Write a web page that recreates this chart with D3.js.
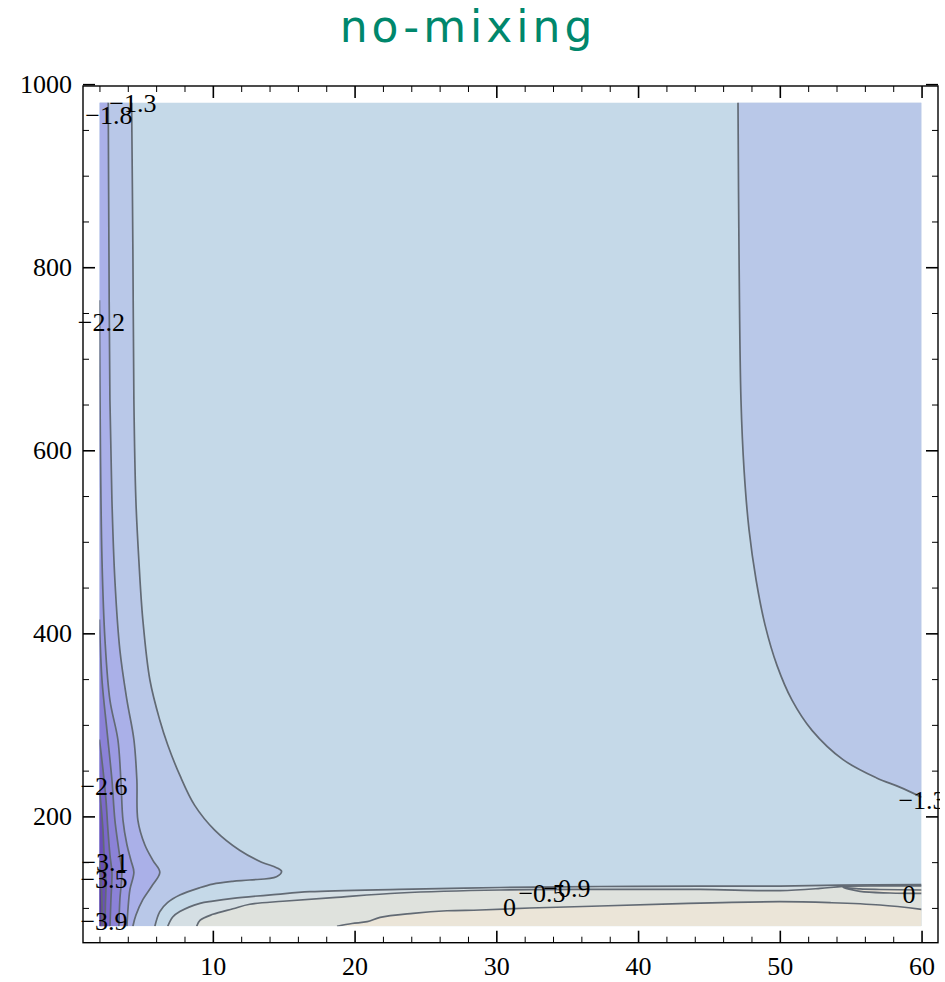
<!DOCTYPE html>
<html>
<head>
<meta charset="utf-8">
<script src="https://cdn.jsdelivr.net/npm/d3@7"></script>
<style>
  body { margin: 0; background: #fff; }
  svg { display: block; }
</style>
</head>
<body>
<div id="chart"></div>
<script>
// contour levels (low to high) and the shade of each band
var levels = [-3.93, -3.49, -3.06, -2.62, -2.18, -1.74, -1.31, -0.87, -0.44, 0];
var bandColors = ['#573898', '#6a4fb8', '#7b68ca', '#8b82d7', '#9b9ae2', '#aab0e8',
                  '#b9c8e8', '#c5d9e8', '#d5dfe4', '#dfe2dd', '#ebe5d8'];

// sampled region of the plot
var xRange = [2, 60];
var yRange = [80, 980];

// contour lines as [x, y]
var lineR13 = [[47.05,980],[47.12,819],[47.26,655],[47.48,578],[47.83,513],[48.33,458],[48.96,409],
               [49.80,365],[50.86,327],[52.27,294],[54.46,262],[56.83,242],[58.46,232],[60,221]];
var lineL13 = [[4.27,980],[4.36,819],[4.43,655],[4.57,546],[4.78,480],[5.06,415],[5.56,349],[6.26,305],
               [6.82,278],[7.67,245],[8.72,212],[10.13,185],[11.89,163],[13.44,150],[14.49,144],[14.85,140],
               [14.49,134],[12.59,130.5],[11.40,129],[9.99,126],[9.07,122],[7.67,114],[6.82,106],[6.26,96],[5.91,80]];
var lineL17 = [[2.62,980],[2.67,819],[2.74,655],[2.88,546],[3.09,458],[3.44,382],[3.94,327],[4.43,284],
               [4.64,240],[4.71,196],[5.20,169],[5.77,152],[6.26,139],[5.70,124],[5.06,109],[4.57,92],[4.36,80]];
var lineL22 = [[2.0,764],[2.07,600],[2.18,480],[2.39,393],[2.74,327],[3.30,284],[3.51,240],[3.66,196],
               [3.94,169],[4.22,152],[4.43,139],[4.15,120],[4.01,98],[3.94,80]];
var lineL26 = [[2.0,415],[2.18,349],[2.53,294],[2.88,240],[3.09,196],[3.37,163],[3.58,139],[3.44,109],[3.37,80]];
var lineL31 = [[2.0,284],[2.25,251],[2.46,218],[2.60,185],[2.74,158],[2.88,139],[2.81,109],[2.74,80]];
var lineL35 = [[2.0,229],[2.14,207],[2.25,185],[2.35,152],[2.46,131],[2.42,103],[2.39,80]];
var lineL39 = [[2.0,152],[2.11,131],[2.18,103],[2.18,80]];
var lineA09 = [[6.82,80],[7.17,90],[7.67,96],[9.09,105],[10.0,107.5],[11.42,110.5],[14.51,114.9],[16.84,117.7],
               [23.17,120.3],[30.26,122.3],[37.31,123.4],[44.37,123.9],[50.01,123.9],[54.24,125.0],[60,125.4]];
var lineB04 = [[8.86,80],[9.09,86.5],[10.0,93.0],[11.42,99.1],[12.61,104.0],[14.94,107.3],[18.47,111.2],
               [23.17,116.3],[30.26,119.6],[37.31,120.2],[44.37,120.2],[50.01,118.9],[52.84,121.3],[54.46,123.5],
               [57.07,124.0],[60,124.0]];
var lineC00 = [[18.76,80],[19.82,83],[20.89,85],[21.80,89.7],[24.12,94.1],[26.52,96.9],[28.85,97.7],[32.37,99.9],
               [37.31,102.1],[42.96,104.8],[50.01,106.8],[53.54,105.7],[57.07,103.2],[60,98.5]];
var lineD00 = [[60,119.6],[57.07,120.1],[55.66,120.7],[54.46,122.3],[55.66,118.0],[57.77,116.3],[60,115.8]];

// contour labels
var labelText = ['\u22121.3', '\u22121.8', '\u22122.2', '\u22122.6', '\u22123.1', '\u22123.5', '\u22123.9',
                 '\u22120.5', '\u22120.9', '0', '0', '\u22121.3'];
var labelX = [4.36, 2.67, 2.14, 2.32, 2.39, 2.32, 2.32, 33.22, 34.98, 30.93, 59.11, 60.03];
var labelY = [979, 966, 740, 233, 150, 131.6, 85.7, 116.3, 121.8, 101.5, 115.8, 218];

// tick values
var xMajor = [10, 20, 30, 40, 50, 60];
var xMinor = d3.range(2, 61, 2).filter(function(d) { return d % 10 !== 0; });
var yMajor = [200, 400, 600, 800, 1000];
var yMinor = d3.range(100, 1000, 50).filter(function(d) { return d % 200 !== 0; });

// which side of each line gets painted, and the band it takes
var contours = [
    {pts: lineR13, side: 'topright', band: 6},
    {pts: lineA09, side: 'bottom', band: 8},
    {pts: lineB04, side: 'bottom', band: 9},
    {pts: lineC00, side: 'bottom', band: 10},
    {pts: lineD00, side: 'closed', band: 10},
    {pts: lineL13, side: 'left', band: 6},
    {pts: lineL17, side: 'left', band: 5},
    {pts: lineL22, side: 'left', band: 4},
    {pts: lineL26, side: 'left', band: 3},
    {pts: lineL31, side: 'left', band: 2},
    {pts: lineL35, side: 'left', band: 1},
    {pts: lineL39, side: 'left', band: 0}
];

var width = 945,
    height = 982,
    frameL = 83, frameR = 938, frameT = 86, frameB = 942.7;

var x = d3.scaleLinear().domain([0.84, 61.16]).range([frameL, frameR]);
var y = d3.scaleLinear().domain([62, 998]).range([frameB, frameT]);

var svg = d3.select('#chart')
    .append('svg')
    .attr('width', width)
    .attr('height', height);

var defs = svg.append('defs');
defs.append('clipPath').attr('id', 'dataClip')
    .append('rect')
    .attr('x', x(xRange[0])).attr('y', y(yRange[1]))
    .attr('width', x(xRange[1]) - x(xRange[0]))
    .attr('height', y(yRange[0]) - y(yRange[1]));
defs.append('clipPath').attr('id', 'labelClip')
    .append('rect')
    .attr('x', 0).attr('y', 0).attr('width', 940).attr('height', height);

var curve = d3.line()
    .x(function(d) { return x(d[0]); })
    .y(function(d) { return y(d[1]); })
    .curve(d3.curveCatmullRom.alpha(0.5));

function corner(p) { return 'L' + x(p[0]) + ',' + y(p[1]); }

function areaPath(c) {
    var d = curve(c.pts);
    var first = c.pts[0];
    if (c.side === 'left') {
        d += corner([xRange[0], yRange[0]]) + corner([xRange[0], first[1]]);
    } else if (c.side === 'topright') {
        d += corner([xRange[1], yRange[1]]);
    } else if (c.side === 'bottom') {
        d += corner([xRange[1], yRange[0]]);
    }
    return d + 'Z';
}

var plot = svg.append('g').attr('clip-path', 'url(#dataClip)');

// base band
plot.append('rect')
    .attr('x', x(xRange[0])).attr('y', y(yRange[1]))
    .attr('width', x(xRange[1]) - x(xRange[0]))
    .attr('height', y(yRange[0]) - y(yRange[1]))
    .attr('fill', bandColors[7]);

plot.selectAll('path.band')
    .data(contours)
    .enter()
    .append('path')
    .attr('class', 'band')
    .attr('d', areaPath)
    .attr('fill', function(d) { return bandColors[d.band]; });

plot.selectAll('path.contour')
    .data(contours)
    .enter()
    .append('path')
    .attr('class', 'contour')
    .attr('d', function(d) { return curve(d.pts); })
    .attr('fill', 'none')
    .attr('stroke', '#626a74')
    .attr('stroke-width', 1.7);

// frame ticks, pointing inward on all four sides
function styleAxis(g) {
    g.select('.domain').remove();
    g.selectAll('text')
        .attr('font-family', '"Liberation Serif", "Times New Roman", serif')
        .attr('font-size', 26)
        .attr('fill', '#000');
    g.selectAll('line').attr('stroke', '#000');
}

svg.append('g').attr('transform', 'translate(0,' + frameB + ')')
    .call(d3.axisBottom(x).tickValues(xMajor).tickSize(-12).tickPadding(14).tickFormat(d3.format('d')))
    .call(styleAxis)
    .selectAll('line').attr('stroke-width', 1.6);
svg.append('g').attr('transform', 'translate(0,' + frameB + ')')
    .call(d3.axisBottom(x).tickValues(xMinor).tickSize(-6).tickFormat(''))
    .call(styleAxis);
svg.append('g').attr('transform', 'translate(0,' + frameT + ')')
    .call(d3.axisTop(x).tickValues(xMajor).tickSize(-12).tickFormat(''))
    .call(styleAxis)
    .selectAll('line').attr('stroke-width', 1.6);
svg.append('g').attr('transform', 'translate(0,' + frameT + ')')
    .call(d3.axisTop(x).tickValues(xMinor).tickSize(-6).tickFormat(''))
    .call(styleAxis);

svg.append('g').attr('transform', 'translate(' + frameL + ',0)')
    .call(d3.axisLeft(y).tickValues(yMajor).tickSize(-12).tickPadding(11).tickFormat(d3.format('d')))
    .call(styleAxis)
    .selectAll('line').attr('stroke-width', 1.6);
svg.append('g').attr('transform', 'translate(' + frameL + ',0)')
    .call(d3.axisLeft(y).tickValues(yMinor).tickSize(-6).tickFormat(''))
    .call(styleAxis);
svg.append('g').attr('transform', 'translate(' + frameR + ',0)')
    .call(d3.axisRight(y).tickValues(yMajor).tickSize(-12).tickFormat(''))
    .call(styleAxis)
    .selectAll('line').attr('stroke-width', 1.6);
svg.append('g').attr('transform', 'translate(' + frameR + ',0)')
    .call(d3.axisRight(y).tickValues(yMinor).tickSize(-6).tickFormat(''))
    .call(styleAxis);

svg.append('rect')
    .attr('x', frameL).attr('y', frameT)
    .attr('width', frameR - frameL).attr('height', frameB - frameT)
    .attr('fill', 'none')
    .attr('stroke', '#000')
    .attr('stroke-width', 1.4);

// contour labels sit on their lines
svg.append('g')
    .attr('clip-path', 'url(#labelClip)')
    .selectAll('text')
    .data(labelText)
    .enter()
    .append('text')
    .attr('x', function(d, i) { return x(labelX[i]); })
    .attr('y', function(d, i) { return y(labelY[i]); })
    .attr('dy', '0.35em')
    .attr('text-anchor', 'middle')
    .attr('font-family', '"Liberation Serif", "Times New Roman", serif')
    .attr('font-size', 26)
    .attr('fill', '#000')
    .text(function(d) { return d; });

svg.append('text')
    .attr('x', 468)
    .attr('y', 42)
    .attr('text-anchor', 'middle')
    .attr('font-family', '"DejaVu Sans", sans-serif')
    .attr('font-size', 44)
    .attr('letter-spacing', 4)
    .attr('fill', '#00876c')
    .text('no-mixing');
</script>
</body>
</html>
